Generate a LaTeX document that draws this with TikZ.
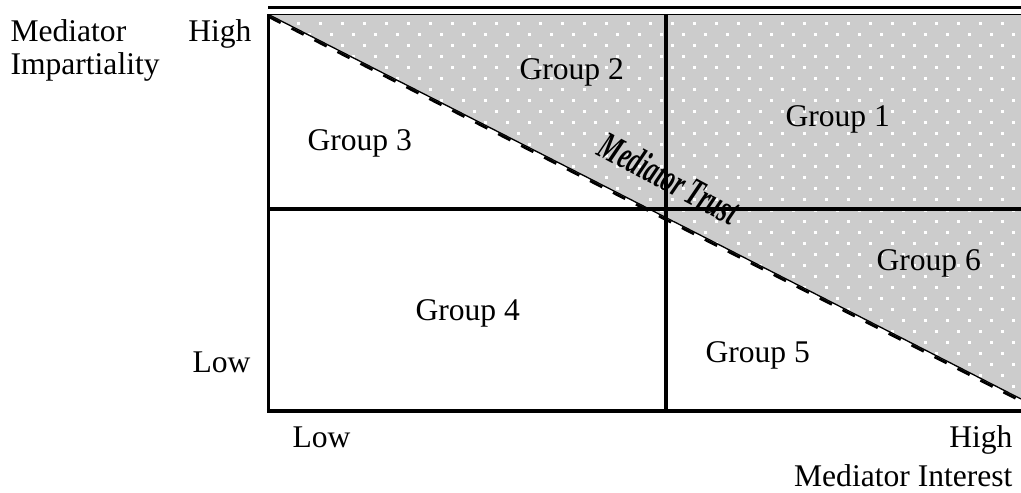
\documentclass[tikz,border=0pt]{standalone}
\usepackage{fontspec}
\setmainfont{Liberation Serif}
\usepackage{xcolor}
\definecolor{TrustGray}{RGB}{204,204,204}

\begin{document}
\begin{tikzpicture}[x=0.38pt, y=-0.38pt]
        \tikzset{Label/.style={inner sep=0pt, font=\fontsize{12}{14}\selectfont}}
        \tikzset{GridLine/.style={line width=1.4pt}}
        \useasboundingbox (0,0) rectangle (1021,493);

        % corners of the chart
        \coordinate (BoxNW) at (268.5,14.5);
        \coordinate (BoxNE) at (1021,14.5);
        \coordinate (BoxSW) at (268.5,411);
        \coordinate (BoxSE) at (1021,411);
        \coordinate (DiagEnd) at (1021,399);
        \coordinate (MidN) at (666,14.5);
        \coordinate (MidS) at (666,411);
        \coordinate (MidW) at (268.5,209);
        \coordinate (MidE) at (1021,209);

        % shaded trust area
        \fill[TrustGray] (BoxNW) -- (BoxNE) -- (DiagEnd) -- cycle;
        \begin{scope}
            \clip (BoxNW) -- (BoxNE) -- (DiagEnd) -- cycle;
            \foreach \row in {0,...,36} {
                \pgfmathsetmacro{\dx}{mod(\row,2)*11}
                \foreach \col in {0,...,35} {
                    \fill[white] (\col*22+\dx+263.5, \row*11+11.5) rectangle ++(3,3);
                }
            }
        \end{scope}

        % trust boundary
        \draw[line width=0.5pt] (BoxNW) -- (DiagEnd);
        \draw[line width=1pt, dash pattern=on 5.2pt off 4.6pt]
            ([yshift=-0.8pt]BoxNW) -- ([yshift=-0.8pt]DiagEnd);

        % frame
        \draw[line width=1.4pt] (268,7.5) -- (1021,7.5);
        \draw[line width=0.57pt] (BoxNW) -- (BoxNE);
        \draw[line width=0.95pt] (BoxNW) -- (BoxSW);
        \draw[line width=1.5pt] ([xshift=-0.6pt]BoxSW) -- (BoxSE);
        \draw[GridLine] (MidW) -- (MidE);
        \draw[GridLine] (MidN) -- (MidS);

        % axis labels
        \node[Label, anchor=base west] (ImpA) at (10,42) {Mediator};
        \node[Label, anchor=base west] (ImpB) at (10,75) {Impartiality};
        \node[Label, anchor=base east] (ImpHigh) at (252,42) {High};
        \node[Label, anchor=base west] (ImpLow) at (192,373) {Low};
        \node[Label, anchor=base west] (IntLow) at (292,448) {Low};
        \node[Label, anchor=base east] (IntHigh) at (1013,448) {High};
        \node[Label, anchor=base east] (IntName) at (1013,487) {Mediator Interest};

        % groups
        \node[Label, anchor=base west] (G1) at (785,127) {Group 1};
        \node[Label, anchor=base west] (G2) at (519,80) {Group 2};
        \node[Label, anchor=base west] (G3) at (307,151) {Group 3};
        \node[Label, anchor=base west] (G4) at (415,321) {Group 4};
        \node[Label, anchor=base west] (G5) at (705,363) {Group 5};
        \node[Label, anchor=base west] (G6) at (876,271) {Group 6};

        \node[Label, font=\fontsize{15}{17}\selectfont\bfseries\itshape, rotate=-28, anchor=base]
            (Trust) at (663,190) {\scalebox{0.62}[1]{Mediator Trust}};
\end{tikzpicture}
\end{document}
